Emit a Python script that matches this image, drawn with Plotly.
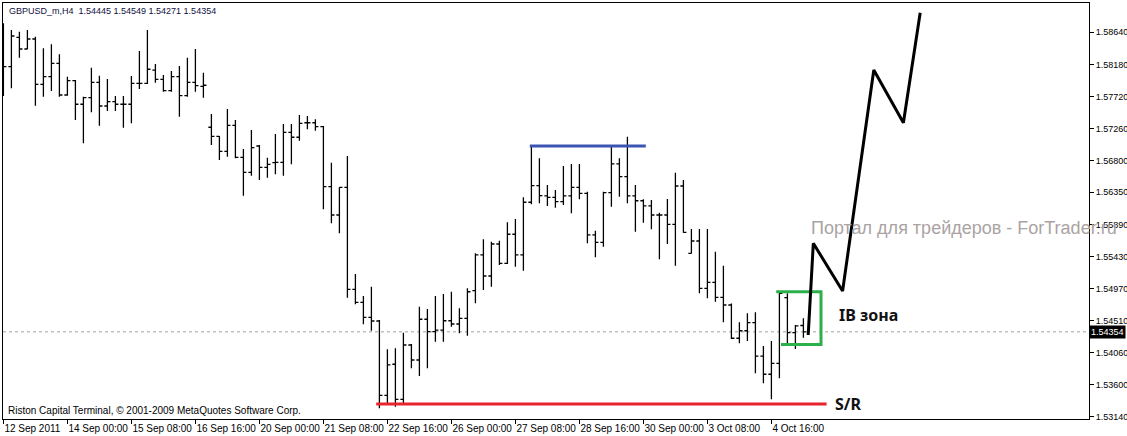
import plotly.graph_objects as go

# GBPUSD_m H4 bars, 12 Sep 2011 16:00 .. 5 Oct 2011
opens = [1.58387, 1.58148, 1.58568, 1.58401, 1.58544, 1.57896, 1.58005, 1.58196, 1.57743, 1.57947,
         1.57610, 1.57704, 1.57924, 1.57585, 1.57647, 1.57610, 1.57610, 1.57910, 1.57910, 1.58100,
         1.57967, 1.57804, 1.58005, 1.57733, 1.57924, 1.57867, 1.57281, 1.57152, 1.56937, 1.57309,
         1.56851, 1.56637, 1.57013, 1.56708, 1.56774, 1.56780, 1.57209, 1.57138, 1.57346, 1.57346,
         1.57289, 1.56431, 1.56026, 1.56422, 1.54963, 1.54777, 1.54562, 1.54509, 1.53446, 1.53890,
         1.53389, 1.54166, 1.53951, 1.54534, 1.54356, 1.54380, 1.54513, 1.54466, 1.54548, 1.54943,
         1.55454, 1.55153, 1.55611, 1.55335, 1.55750, 1.55454, 1.56208, 1.56445, 1.56298, 1.56279,
         1.56216, 1.56298, 1.56422, 1.56336, 1.55740, 1.55635, 1.56345, 1.56756, 1.56574, 1.56298,
         1.56230, 1.56155, 1.56026, 1.56026, 1.55893, 1.56441, 1.55478, 1.55654, 1.54977, 1.55063,
         1.54848, 1.54738, 1.54262, 1.54370, 1.54485, 1.54008, 1.53747, 1.53904, 1.54843, 1.54342,
         1.54445]
highs = [1.58769, 1.58673, 1.58648, 1.58673, 1.58577, 1.58411, 1.58468, 1.58325, 1.58005, 1.57957,
         1.57718, 1.58133, 1.58019, 1.57972, 1.57728, 1.57728, 1.58015, 1.58372, 1.58673, 1.58186,
         1.58029, 1.58086, 1.58158, 1.58276, 1.58401, 1.58062, 1.57471, 1.57156, 1.57542, 1.57385,
         1.56970, 1.57242, 1.57027, 1.56846, 1.57185, 1.57328, 1.57328, 1.57457, 1.57442, 1.57395,
         1.57299, 1.56774, 1.56422, 1.56870, 1.55182, 1.54867, 1.55000, 1.54524, 1.54104, 1.54119,
         1.54342, 1.54180, 1.54714, 1.54681, 1.54867, 1.54895, 1.54928, 1.54691, 1.54977, 1.55478,
         1.55678, 1.55644, 1.55658, 1.55921, 1.55969, 1.56279, 1.57003, 1.56837, 1.56455, 1.56384,
         1.56727, 1.56756, 1.56756, 1.56359, 1.55801, 1.56359, 1.57003, 1.56837, 1.57146, 1.56455,
         1.56250, 1.56240, 1.56059, 1.56255, 1.56631, 1.56527, 1.55826, 1.55826, 1.55826, 1.55501,
         1.55300, 1.54760, 1.54491, 1.54619, 1.54634, 1.54151, 1.54223, 1.54914, 1.54906, 1.54452,
         1.54549]
lows = [1.57728, 1.57839, 1.58276, 1.58397, 1.57590, 1.57718, 1.57800, 1.57718, 1.57733, 1.57385,
        1.57052, 1.57495, 1.57303, 1.57514, 1.57514, 1.57275, 1.57338, 1.57829, 1.57900, 1.57919,
        1.57790, 1.57790, 1.57432, 1.57718, 1.57790, 1.57704, 1.57027, 1.56813, 1.56860, 1.56837,
        1.56302, 1.56588, 1.56527, 1.56560, 1.56608, 1.56588, 1.56751, 1.57089, 1.57252, 1.57232,
        1.56107, 1.55907, 1.55764, 1.54843, 1.54748, 1.54462, 1.54370, 1.53260, 1.53307, 1.53283,
        1.53332, 1.53832, 1.53722, 1.53832, 1.54213, 1.54213, 1.54428, 1.54333, 1.54299, 1.54762,
        1.54953, 1.55000, 1.55310, 1.55325, 1.55286, 1.55229, 1.56179, 1.56193, 1.56155, 1.56130,
        1.56169, 1.56050, 1.56250, 1.55621, 1.55421, 1.55572, 1.56145, 1.56288, 1.56193, 1.55787,
        1.55916, 1.55821, 1.55392, 1.55611, 1.55300, 1.55773, 1.55475, 1.54906, 1.54834, 1.54785,
        1.54491, 1.54252, 1.54190, 1.54223, 1.53761, 1.53618, 1.53389, 1.53689, 1.54190, 1.54109,
        1.54271]
closes = [1.58148, 1.58587, 1.58401, 1.58544, 1.57896, 1.58005, 1.58196, 1.57743, 1.57947, 1.57610,
          1.57704, 1.57924, 1.57585, 1.57647, 1.57610, 1.57610, 1.57910, 1.57910, 1.58111, 1.57967,
          1.57804, 1.58005, 1.57733, 1.57924, 1.57876, 1.57882, 1.57152, 1.56937, 1.57309, 1.56851,
          1.56637, 1.56989, 1.56708, 1.56751, 1.56780, 1.57209, 1.57138, 1.57338, 1.57346, 1.57289,
          1.56431, 1.56026, 1.56422, 1.54963, 1.54777, 1.54562, 1.54509, 1.53446, 1.53880, 1.53389,
          1.54166, 1.53951, 1.54534, 1.54356, 1.54380, 1.54513, 1.54466, 1.54548, 1.54928, 1.55454,
          1.55153, 1.55611, 1.55335, 1.55750, 1.55454, 1.56208, 1.56445, 1.56302, 1.56279, 1.56216,
          1.56298, 1.56422, 1.56336, 1.55740, 1.55635, 1.56345, 1.56756, 1.56574, 1.56298, 1.56230,
          1.56155, 1.56026, 1.56026, 1.55893, 1.56441, 1.55778, 1.55654, 1.54977, 1.55063, 1.54848,
          1.54738, 1.54262, 1.54370, 1.54485, 1.54008, 1.53747, 1.53904, 1.54906, 1.54342, 1.54438,
          1.54354]

# time axis labels (every 8th bar)
time_labels = ["12 Sep 2011", "14 Sep 00:00", "15 Sep 08:00", "16 Sep 16:00", "20 Sep 00:00",
               "21 Sep 08:00", "22 Sep 16:00", "26 Sep 00:00", "27 Sep 08:00", "28 Sep 16:00",
               "30 Sep 00:00", "3 Oct 08:00", "4 Oct 16:00"]
label_step = 8

price_ticks = [1.58640, 1.58180, 1.57720, 1.57260, 1.56800, 1.56350, 1.55890,
               1.55430, 1.54970, 1.54510, 1.54060, 1.53600, 1.53140]

# hand drawn objects
support_level = 1.53322          # S/R line
support_span = [46.6, 102.9]
resistance_level = 1.57013       # blue top line
resistance_span = [65.8, 80.3]
ib_zone_high = 1.54928
ib_zone_low = 1.54173
ib_zone_span = [96.6, 97.2, 102.2]
forecast_x = [100.6, 101.24, 104.9, 108.8, 112.5, 114.6]
forecast_y = [1.54309, 1.55621, 1.54938, 1.58100, 1.57346, 1.58920]

bars = list(range(len(opens)))
tick_bars = [i * label_step for i in range(len(time_labels))]
last_close = closes[-1]
header = "GBPUSD_m,H4  %.5f %.5f %.5f %.5f" % (opens[-1], highs[-1], lows[-1], closes[-1])

fig = go.Figure()

fig.add_trace(go.Ohlc(
    x=bars, open=opens, high=highs, low=lows, close=closes,
    increasing=dict(line=dict(color='black', width=1.3)),
    decreasing=dict(line=dict(color='black', width=1.3)),
    tickwidth=0.38, hoverinfo='skip', showlegend=False
))

# S/R and resistance lines
fig.add_trace(go.Scatter(x=support_span, y=[support_level] * 2, mode='lines',
                         line=dict(color='#e8232b', width=3), showlegend=False, hoverinfo='skip'))
fig.add_trace(go.Scatter(x=resistance_span, y=[resistance_level] * 2, mode='lines',
                         line=dict(color='#3a55b4', width=3), showlegend=False, hoverinfo='skip'))

# IB zone bracket
fig.add_trace(go.Scatter(
    x=[ib_zone_span[0], ib_zone_span[2], ib_zone_span[2], ib_zone_span[1]],
    y=[ib_zone_high, ib_zone_high, ib_zone_low, ib_zone_low],
    mode='lines', line=dict(color='#2bb04c', width=3), showlegend=False, hoverinfo='skip'))

# forecast zigzag
fig.add_trace(go.Scatter(x=forecast_x, y=forecast_y, mode='lines',
                         line=dict(color='black', width=3), showlegend=False, hoverinfo='skip'))

fig.add_shape(type='line', xref='paper', x0=0, x1=1, yref='y', y0=last_close, y1=last_close,
              line=dict(color='#a0a0a0', width=1, dash='dot'), layer='below')

xfont = dict(family='Liberation Sans', size=10, color='black')
yfont = dict(family='Liberation Sans', size=9, color='black')

fig.add_annotation(xref='paper', yref='y', x=1, y=last_close, xanchor='left', yanchor='middle',
                   text='%.5f' % last_close, showarrow=False, bgcolor='black', borderpad=1,
                   font=dict(family='Liberation Sans', size=9, color='white'))
fig.add_annotation(xref='paper', yref='paper', x=0.0035, y=0.981, xanchor='left', yanchor='middle',
                   text=header, showarrow=False, font=dict(family='Liberation Sans', size=9, color='#101040'))
fig.add_annotation(xref='paper', yref='paper', x=0.003, y=0.02, xanchor='left', yanchor='middle',
                   text='Riston Capital Terminal, © 2001-2009 MetaQuotes Software Corp.', showarrow=False,
                   font=dict(family='Liberation Sans', size=10, color='black'))
fig.add_annotation(x=100.7, y=1.55840, xanchor='left', yanchor='middle', text='Портал для трейдеров - ForTrader.ru',
                   showarrow=False, font=dict(family='Liberation Sans', size=18, color='#aaa3a3'))
fig.add_annotation(x=104.2, y=1.54595, xanchor='left', yanchor='middle', text='<b>IB зона</b>',
                   showarrow=False, font=dict(family='Noto Sans', size=16, color='#111111'))
fig.add_annotation(x=103.7, y=support_level, xanchor='left', yanchor='middle', text='<b>S/R</b>',
                   showarrow=False, font=dict(family='Noto Sans', size=16, color='#111111'))

fig.update_layout(
    width=1127, height=436, autosize=False,
    margin=dict(l=3, r=38, t=3, b=17),
    paper_bgcolor='white', plot_bgcolor='white',
    showlegend=False,
    xaxis=dict(range=[-0.05, -0.05 + 1086 / 8], rangeslider=dict(visible=False),
               tickvals=tick_bars, ticktext=time_labels, ticks='outside', ticklen=4,
               tickcolor='black', ticklabelposition='outside right', tickfont=xfont,
               tickangle=0, automargin=False,
               showgrid=False, zeroline=False, showline=True, linecolor='black', linewidth=1,
               mirror=True),
    yaxis=dict(range=[1.53107, 1.59059], side='right', tickvals=price_ticks,
               ticktext=['%.5f' % v for v in price_ticks], ticks='outside', ticklen=4,
               tickcolor='black', tickfont=yfont, automargin=False, showgrid=False, zeroline=False,
               showline=True, linecolor='black', linewidth=1, mirror=True),
)

# drop the default page margin so the figure sits at the window's top-left corner
fig.write_html("out.html", config={'displayModeBar': False},
               post_script="document.body.style.margin='0';")
